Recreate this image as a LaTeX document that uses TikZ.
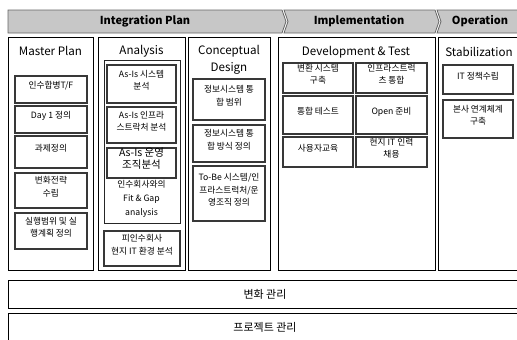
\documentclass[tikz,border=0pt]{standalone}
\usepackage{fontspec}
\setmainfont{Noto Sans CJK KR}
\usetikzlibrary{fit}
\tikzset{
  x=1pt, y=-1pt,
  colbox/.style={draw=black, line width=0.9pt, inner sep=0pt},
  contbox/.style={draw=black!85, line width=0.8pt, inner sep=0pt},
  ibox/.style={draw=black!78, line width=1.2pt, fill=white, inner sep=0pt, align=center,
    font=\fontsize{8.7}{12.5}\selectfont},
  bigbox/.style={ibox, font=\fontsize{10.5}{12.8}\selectfont},
  hdr/.style={draw=black!60, fill=black!22, line width=0.8pt},
  htext/.style={font=\bfseries\fontsize{11}{13}\selectfont, inner sep=0pt},
  coltitle/.style={font=\fontsize{11.6}{16.5}\selectfont, align=center, inner sep=0pt},
  plain/.style={font=\fontsize{8.7}{13.8}\selectfont, align=center, inner sep=0pt},
  barbox/.style={draw=black, line width=0.9pt, inner sep=0pt},
  bartext/.style={font=\fontsize{11}{13}\selectfont, inner sep=0pt},
}
\begin{document}
\begin{tikzpicture}
\useasboundingbox (0,0) rectangle (517,340);
\clip (0,0) rectangle (517,340);
% header chevrons
\path[hdr] (8,10) -- (282,10) -- (286,21.5) -- (282,33) -- (8,33) -- cycle;
\path[hdr] (284,10) -- (435,10) -- (439,21.5) -- (435,33) -- (284,33) -- (288,21.5) -- cycle;
\path[hdr] (437,10) -- (522,10) -- (522,33) -- (437,33) -- (441,21.5) -- cycle;
\node[htext] (hip) at (145,21.5) {Integration Plan};
\node[htext] (him) at (359,21.5) {Implementation};
\node[htext] (hop) at (480,21.5) {Operation};
% columns
\node[colbox, fit={(8,37) (93,270)}] (mp) {};
\node[colbox, fit={(98,37) (185,270)}] (an) {};
\node[colbox, fit={(188,37) (270,270)}] (cd) {};
\node[colbox, fit={(278,37) (435,270)}] (dt) {};
\node[colbox, fit={(438,37) (522,270)}] (st) {};
\node[coltitle] (tmp) at (50.5,51) {Master Plan};
\node[coltitle] (tan) at (141.5,51) {Analysis};
\node[coltitle] (tcd) at (229,60) {Conceptual\\Design};
\node[coltitle] (tdt) at (356,52) {Development \& Test};
\node[coltitle] (tst) at (479,52) {Stabilization};
% Master Plan
\node[ibox, fit={(15,76) (87,103)}] (m1) {인수합병T/F};
\node[ibox, fit={(15,106) (87,133)}] (m2) {Day 1 정의};
\node[ibox, fit={(15,136) (87,168)}] (m3) {과제정의};
\node[ibox, fit={(15,173) (87,208)}] (m4) {변화전략\\수립};
\node[ibox, fit={(15,213) (87,249)}] (m5) {실행범위 및 실\\행계획 정의};
% Analysis
\node[contbox, fit={(104,60) (180,223)}] (acont) {};
\node[plain] (afit) at (141.5,199) {인수회사와의\\Fit \& Gap\\analysis};
\node[ibox, fit={(107,65) (176,103)}] (a1) {As-Is 시스템\\분석};
\node[ibox, fit={(107,107) (176,143)}] (a2) {As-Is 인프라\\스트락처 분석};
\node[bigbox, fit={(107,148) (176,178)}] (a3) {As-Is 운영\\조직분석};
\node[ibox, fit={(104,231) (180,266)}] (a4) {피인수회사\\현지 IT 환경 분석};
% Conceptual Design
\node[ibox, fit={(193,79) (265,120)}] (c1) {정보시스템 통\\합 범위};
\node[ibox, fit={(193,125) (265,162)}] (c2) {정보시스템 통\\합 방식 정의};
\node[ibox, fit={(193,166) (265,221)}] (c3) {To-Be 시스템/인\\프라스트럭처/운\\영조직 정의};
% Development & Test
\node[ibox, fit={(283,63) (353,93)}] (d1) {변환 시스템\\구축};
\node[ibox, fit={(356,63) (427,93)}] (d2) {인프라스트럭\\츠 통합};
\node[ibox, fit={(283,96) (353,134)}] (d3) {통합 테스트};
\node[ibox, fit={(356,96) (427,134)}] (d4) {Open 준비};
\node[ibox, fit={(283,137) (353,167)}] (d5) {사용자교육};
\node[ibox, fit={(356,137) (427,167)}] (d6) {현지 IT 인력\\채용};
% Stabilization
\node[ibox, fit={(443,65) (513,94)}] (s1) {IT 정책수립};
\node[ibox, fit={(443,100) (513,138)}] (s2) {본사 연계체계\\구축};
% bottom bars
\node[barbox, fit={(8,280) (522,308)}] (cm) {};
\node[bartext] (cmt) at (265,294) {변화 관리};
\node[barbox, fit={(8,313) (522,350)}] (pm) {};
\node[bartext] (pmt) at (265,327) {프로젝트 관리};
\end{tikzpicture}
\end{document}
